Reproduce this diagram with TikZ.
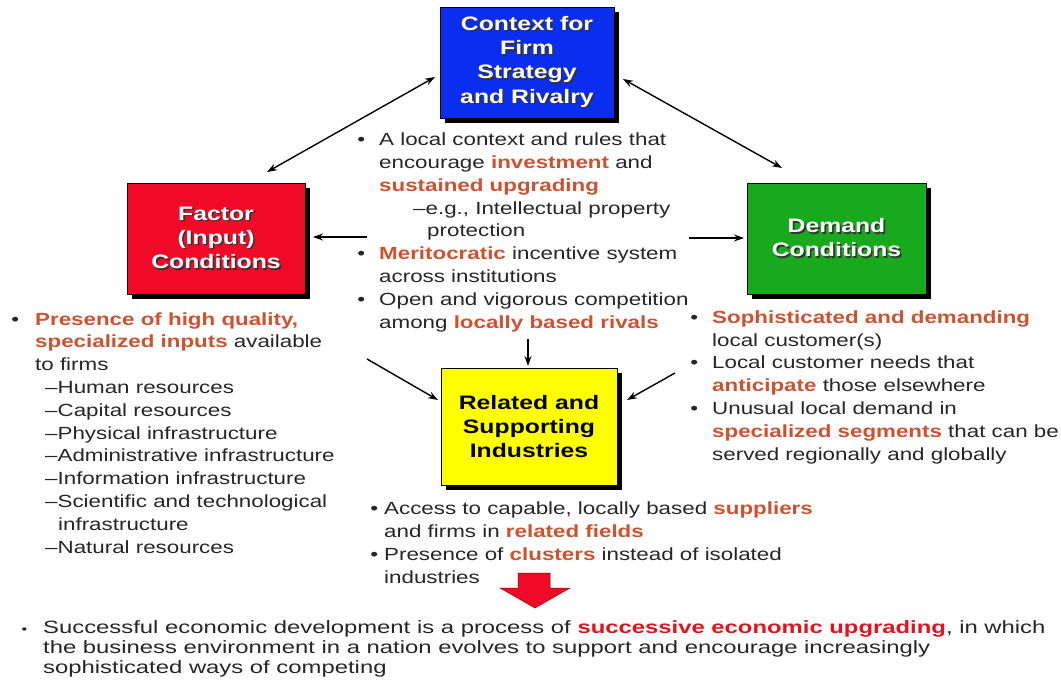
\documentclass[tikz,border=0pt]{standalone}
\usepackage{fontspec}
\setmainfont{Liberation Sans}[FakeStretch=1.27]
\newfontfamily\botfont{Liberation Sans}[FakeStretch=1.34]
\usetikzlibrary{arrows.meta,shadows,calc}
\definecolor{bluec}{RGB}{10,45,240}
\definecolor{redc}{RGB}{240,10,40}
\definecolor{greenc}{RGB}{22,170,28}
\definecolor{yellowc}{RGB}{255,255,0}
\definecolor{hlc}{RGB}{205,82,48}
\definecolor{txtc}{RGB}{38,38,38}
\definecolor{botred}{RGB}{225,20,30}
\newcommand\hl[1]{\textbf{\color{hlc}#1}}
\newcommand\bul[1][14pt]{\llap{•\hspace{#1}}}
\newcommand\shtxt[1]{\leavevmode\rlap{\hspace{1.6pt}\raisebox{-1.6pt}{\color{black!80}#1}}#1}
\tikzset{
  box/.style={draw=black, line width=0.8pt, inner sep=0pt,
    drop shadow={shadow xshift=5pt, shadow yshift=-5pt, fill=black, opacity=1}},
  boxtxt/.style={font=\fontsize{19.5}{24.3}\selectfont\bfseries, text=white, align=center},
  blk/.style={anchor=base west, inner sep=0pt, align=left, text=txtc,
    font=\fontsize{17.6}{22.8}\selectfont},
  arr/.style={line width=1.4pt, -{Stealth[length=10pt,width=7pt]}},
  dbl/.style={line width=1.4pt, {Stealth[length=10pt,width=7pt]}-{Stealth[length=10pt,width=7pt]}}
}
\begin{document}
\begin{tikzpicture}[x=1pt,y=-1pt]
\useasboundingbox[fill=white] (0,0) rectangle (1061,683);

% boxes
\node[box, boxtxt, fill=bluec, minimum width=174pt, minimum height=111pt] (ctx) at (527,62.5)
  {\shtxt{Context for}\\\shtxt{Firm}\\\shtxt{Strategy}\\\shtxt{and Rivalry}};
\node[box, boxtxt, fill=redc, minimum width=178pt, minimum height=111pt] (fac) at (216,238.5)
  {\shtxt{Factor}\\\shtxt{(Input)}\\\shtxt{Conditions}};
\node[box, boxtxt, fill=greenc, minimum width=179pt, minimum height=111pt] (dem) at (836.5,238.5)
  {\shtxt{Demand}\\\shtxt{Conditions}};
\node[box, boxtxt, text=black, fill=yellowc, minimum width=176pt, minimum height=117pt] (rel) at (529,426.5)
  {Related and\\Supporting\\Industries};

% text blocks (anchored at the baseline of their last line)
\node[blk] (ctxtxt) at (379,328) {\bul A local context and rules that\\
encourage \hl{investment} and\\
\hl{sustained upgrading}\\
\hspace*{34pt}–e.g., Intellectual property\\
\hspace*{48pt}protection\\
\bul \hl{Meritocratic} incentive system\\
across institutions\\
\bul Open and vigorous competition\\
among \hl{locally based rivals}};

\node[blk] (factxt) at (35,553) {\bul[16pt]\hl{Presence of high quality,}\\
\hl{specialized inputs} available\\
to firms\\
\hspace*{10pt}–Human resources\\
\hspace*{10pt}–Capital resources\\
\hspace*{10pt}–Physical infrastructure\\
\hspace*{10pt}–Administrative infrastructure\\
\hspace*{10pt}–Information infrastructure\\
\hspace*{10pt}–Scientific and technological\\
\hspace*{23pt}infrastructure\\
\hspace*{10pt}–Natural resources};

\node[blk] (demtxt) at (712,460) {\bul[14pt]\hl{Sophisticated and demanding}\\
local customer(s)\\
\bul[14pt]Local customer needs that\\
\hl{anticipate} those elsewhere\\
\bul[14pt]Unusual local demand in\\
\hl{specialized segments} that can be\\
served regionally and globally};

\node[blk] (reltxt) at (384,583) {\bul[6pt]Access to capable, locally based \hl{suppliers}\\
and firms in \hl{related fields}\\
\bul[6pt]Presence of \hl{clusters} instead of isolated\\
industries};

\node[blk, font=\botfont\fontsize{17.8}{20}\selectfont] (bottxt) at (43,673)
{\llap{\fontsize{12}{12}\selectfont•\hspace{16pt}}Successful economic development is a process of \textbf{\color{botred}successive economic upgrading}, in which\\
the business environment in a nation evolves to support and encourage increasingly\\
sophisticated ways of competing};

% connector end points
\coordinate (c1a) at (435,77);  \coordinate (c1b) at (267,172);
\coordinate (c2a) at (623,79);  \coordinate (c2b) at (782,168);
\coordinate (c3) at (367,237);  \coordinate (c3e) at (313,237);
\coordinate (c4) at (689,238);  \coordinate (c4e) at (744,238);
\coordinate (c5) at (528,339);  \coordinate (c5e) at (528,366);
\coordinate (c6) at (367,359);  \coordinate (c6e) at (438,400);
\coordinate (c7) at (675,373);  \coordinate (c7e) at (627,400);

\draw[dbl] (c1a) -- (c1b);
\draw[dbl] (c2a) -- (c2b);
\draw[arr] (c3) -- (c3e);
\draw[arr] (c4) -- (c4e);
\draw[arr] (c5) -- (c5e);
\draw[arr] (c6) -- (c6e);
\draw[arr] (c7) -- (c7e);

% big red arrow
\filldraw[fill=redc, draw=red!55!black, line width=0.5pt]
  (518,573) -- (550,573) -- (550,588) -- (570,588) -- (535,608) -- (500,588) -- (518,588) -- cycle;
\end{tikzpicture}
\end{document}
